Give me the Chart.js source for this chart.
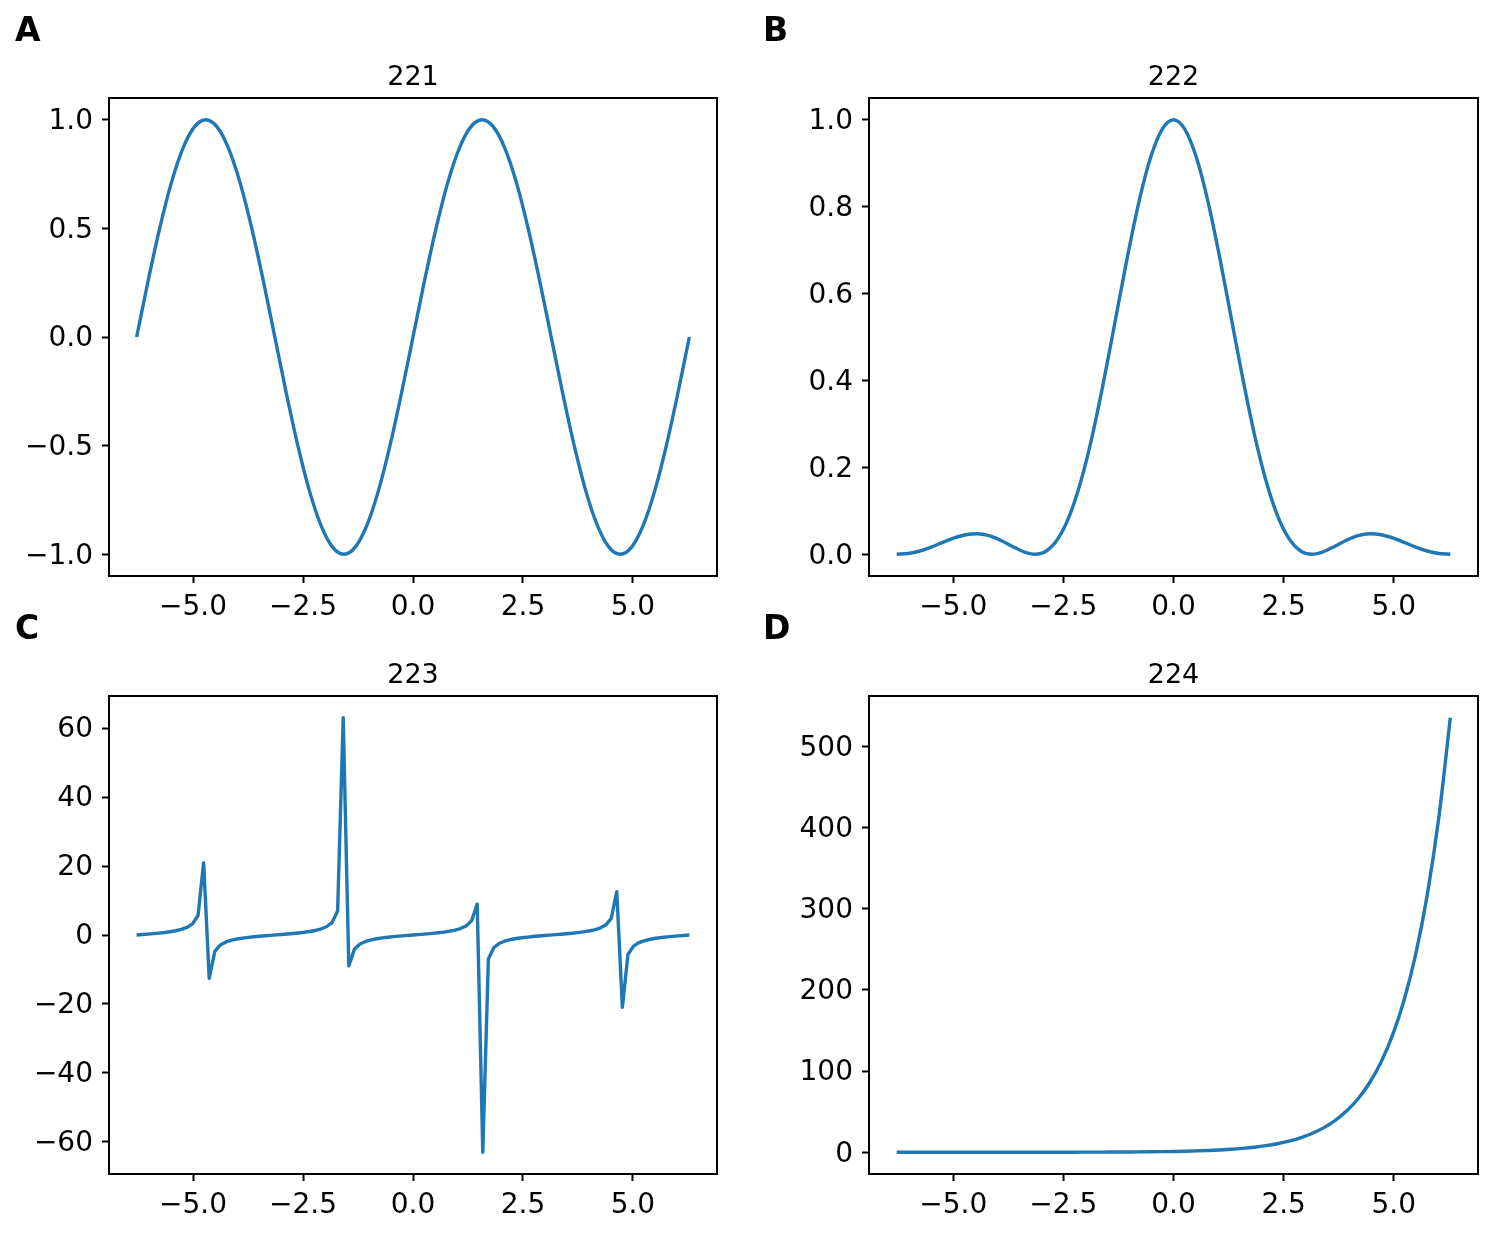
<!DOCTYPE html>
<html>
<head>
<meta charset="utf-8">
<script src="https://cdn.jsdelivr.net/npm/chart.js@4.4.1/dist/chart.umd.min.js"></script>
<style>
html, body { margin: 0; padding: 0; background: #ffffff; width: 1492px; height: 1233px; overflow: hidden; }
canvas { position: absolute; }
</style>
</head>
<body>
<canvas id="cA" width="746" height="660" style="left:0px;top:0px"></canvas>
<canvas id="cB" width="746" height="660" style="left:746px;top:0px"></canvas>
<canvas id="cC" width="746" height="635" style="left:0px;top:598px"></canvas>
<canvas id="cD" width="746" height="635" style="left:746px;top:598px"></canvas>
<script>
// ---- data ----
const X_TAN = [
  -6.2832, -6.1563, -6.0293, -5.9024, -5.7755, -5.6485, -5.5216, -5.3947, -5.2677, -5.1408,
  -5.0139, -4.8869, -4.7600, -4.6331, -4.5061, -4.3792, -4.2523, -4.1253, -3.9984, -3.8715,
  -3.7445, -3.6176, -3.4907, -3.3637, -3.2368, -3.1099, -2.9829, -2.8560, -2.7291, -2.6021,
  -2.4752, -2.3483, -2.2213, -2.0944, -1.9675, -1.8405, -1.7136, -1.5867, -1.4597, -1.3328,
  -1.2059, -1.0789, -0.9520, -0.8251, -0.6981, -0.5712, -0.4443, -0.3173, -0.1904, -0.0635,
  0.0635, 0.1904, 0.3173, 0.4443, 0.5712, 0.6981, 0.8251, 0.9520, 1.0789, 1.2059,
  1.3328, 1.4597, 1.5867, 1.7136, 1.8405, 1.9675, 2.0944, 2.2213, 2.3483, 2.4752,
  2.6021, 2.7291, 2.8560, 2.9829, 3.1099, 3.2368, 3.3637, 3.4907, 3.6176, 3.7445,
  3.8715, 3.9984, 4.1253, 4.2523, 4.3792, 4.5061, 4.6331, 4.7600, 4.8869, 5.0139,
  5.1408, 5.2677, 5.3947, 5.5216, 5.6485, 5.7755, 5.9024, 6.0293, 6.1563, 6.2832
];
const Y_TAN = [
  0, 0.127619, 0.259464, 0.400340, 0.556385, 0.736285, 0.953499, 1.230900, 1.611693, 2.189695,
  3.216021, 5.671282, 20.9925, -12.5786, -4.77914, -2.88932, -2.01770, -1.50305, -1.15406, -0.894674,
  -0.688451, -0.515535, -0.363970, -0.225860, -0.095489, 0.031744, 0.160011, 0.293627, 0.437646, 0.598704,
  0.786409, 1.015994, 1.313984, 1.732051, 2.387384, 3.617023, 6.955152, 63.0203, -8.96652, -4.12205,
  -2.61749, -1.86642, -1.40430, -1.08266, -0.839100, -0.642662, -0.476002, -0.328432, -0.192735, -0.063552,
  0.063552, 0.192735, 0.328432, 0.476002, 0.642662, 0.839100, 1.08266, 1.40430, 1.86642, 2.61749,
  4.12205, 8.96652, -63.0203, -6.955152, -3.617023, -2.387384, -1.732051, -1.313984, -1.015994, -0.786409,
  -0.598704, -0.437646, -0.293627, -0.160011, -0.031744, 0.095489, 0.225860, 0.363970, 0.515535, 0.688451,
  0.894674, 1.15406, 1.50305, 2.01770, 2.88932, 4.77914, 12.5786, -20.9925, -5.671282, -3.216021,
  -2.189695, -1.611693, -1.230900, -0.953499, -0.736285, -0.556385, -0.400340, -0.259464, -0.127619, 0
];
const X_SMOOTH = [
  -6.2832, -6.0214, -5.7596, -5.4978, -5.2360, -4.9742, -4.7124, -4.4506, -4.1888, -3.9270,
  -3.6652, -3.4034, -3.1416, -2.8798, -2.6180, -2.3562, -2.0944, -1.8326, -1.5708, -1.3090,
  -1.0472, -0.7854, -0.5236, -0.2618, 0,
  0.2618, 0.5236, 0.7854, 1.0472, 1.3090, 1.5708, 1.8326, 2.0944, 2.3562, 2.6180,
  2.8798, 3.1416, 3.4034, 3.6652, 3.9270, 4.1888, 4.4506, 4.7124, 4.9742, 5.2360,
  5.4978, 5.7596, 6.0214, 6.2832
];
const Y_SIN = [
  0, 0.258819, 0.5, 0.707107, 0.866025, 0.965926, 1, 0.965926, 0.866025, 0.707107,
  0.5, 0.258819, 0, -0.258819, -0.5, -0.707107, -0.866025, -0.965926, -1, -0.965926,
  -0.866025, -0.707107, -0.5, -0.258819, 0,
  0.258819, 0.5, 0.707107, 0.866025, 0.965926, 1, 0.965926, 0.866025, 0.707107, 0.5,
  0.258819, 0, -0.258819, -0.5, -0.707107, -0.866025, -0.965926, -1, -0.965926, -0.866025,
  -0.707107, -0.5, -0.258819, 0
];
const Y_SINC2 = [
  0, 0.0018475, 0.0075362, 0.016542, 0.027357, 0.037709, 0.045032, 0.047104, 0.042745, 0.032423,
  0.018610, 0.0057832, 0, 0.0080773, 0.036476, 0.090063, 0.17098, 0.277814, 0.405285, 0.544522,
  0.68392, 0.81057, 0.91189, 0.97736, 1,
  0.97736, 0.91189, 0.81057, 0.68392, 0.544522, 0.405285, 0.277814, 0.17098, 0.090063, 0.036476,
  0.0080773, 0, 0.0057832, 0.018610, 0.032423, 0.042745, 0.047104, 0.045032, 0.037709, 0.027357,
  0.016542, 0.0075362, 0.0018475, 0
];
const Y_EXP = [
  0.001867, 0.002426, 0.003152, 0.004096, 0.005322, 0.006914, 0.008983, 0.011672, 0.015165, 0.019703,
  0.025599, 0.033260, 0.043214, 0.056147, 0.072949, 0.094780, 0.123145, 0.159998, 0.207880, 0.270090,
  0.350918, 0.455938, 0.592385, 0.769665, 1,
  1.299266, 1.688091, 2.193280, 2.849654, 3.702459, 4.810477, 6.250089, 8.120527, 10.550724, 13.708197,
  17.810589, 23.140693, 30.065916, 39.063595, 50.754019, 65.942968, 85.677467, 111.317771, 144.631391, 187.914622,
  244.151065, 317.217178, 412.149372, 535.491656
];
const PANEL_LETTERS = ['A', 'B', 'C', 'D'];
const PANEL_TITLES = ['221', '222', '223', '224'];
const X_TICKS = [-5, -2.5, 0, 2.5, 5];
const X_TICK_LABELS = ['\u22125.0', '\u22122.5', '0.0', '2.5', '5.0'];
const Y_TICKS_A = [-1, -0.5, 0, 0.5, 1];
const Y_TICK_LABELS_A = ['\u22121.0', '\u22120.5', '0.0', '0.5', '1.0'];
const Y_TICKS_B = [0, 0.2, 0.4, 0.6, 0.8, 1.0];
const Y_TICK_LABELS_B = ['0.0', '0.2', '0.4', '0.6', '0.8', '1.0'];
const Y_TICKS_C = [-60, -40, -20, 0, 20, 40, 60];
const Y_TICK_LABELS_C = ['\u221260', '\u221240', '\u221220', '0', '20', '40', '60'];
const Y_TICKS_D = [0, 100, 200, 300, 400, 500];
const Y_TICK_LABELS_D = ['0', '100', '200', '300', '400', '500'];

// ---- rendering ----
Chart.defaults.font.family = "'DejaVu Sans', sans-serif";
Chart.defaults.color = '#000000';

const FONT_TICK = 28;
const FONT_TITLE = 27;
const FONT_LETTER = 33;
const LINE_COLOR = '#1f77b4';

const framePlugin = {
  id: 'frame',
  afterDatasetsDraw(chart) {
    const a = chart.chartArea;
    const ctx = chart.ctx;
    ctx.save();
    ctx.strokeStyle = '#000000';
    ctx.lineWidth = 2;
    ctx.strokeRect(a.left, a.top, a.right - a.left, a.bottom - a.top);
    ctx.restore();
  }
};

function makePanel(id, o) {
  const points = o.xs.map((x, i) => ({ x: x, y: o.ys[i] }));
  const tickGrid = { display: true, drawOnChartArea: false, drawTicks: true, tickLength: 7, tickWidth: 2, tickColor: '#000000' };
  return new Chart(document.getElementById(id), {
    type: 'line',
    data: { datasets: [{
      data: points,
      borderColor: LINE_COLOR,
      borderWidth: 3.4,
      pointRadius: 0,
      fill: false,
      tension: 0,
      cubicInterpolationMode: o.smooth ? 'monotone' : 'default',
      borderJoinStyle: 'round'
    }] },
    options: {
      responsive: false,
      animation: false,
      devicePixelRatio: 1,
      events: [],
      layout: { padding: { left: o.padLeft, right: o.padRight, top: 0, bottom: 0 } },
      plugins: {
        legend: { display: false },
        tooltip: { enabled: false },
        title: {
          display: true, text: o.letter, align: 'start', fullSize: true,
          font: { size: FONT_LETTER, weight: 'bold', lineHeight: 1.2 },
          color: '#000000', padding: { top: 12.3, bottom: 0 }
        },
        subtitle: {
          display: true, text: o.title, align: 'center', fullSize: false,
          font: { size: FONT_TITLE, weight: 'normal', lineHeight: 1.2 },
          color: '#000000', padding: { top: 9.7, bottom: 4 }
        }
      },
      scales: {
        x: {
          type: 'linear', min: -6.9115, max: 6.9115,
          border: { display: false },
          grid: tickGrid,
          afterBuildTicks: (s) => { s.ticks = X_TICKS.map(v => ({ value: v })); },
          afterFit: (s) => { s.height = o.xAxisHeight; },
          ticks: {
            autoSkip: false, maxRotation: 0, minRotation: 0, padding: 8,
            font: { size: FONT_TICK }, color: '#000000',
            callback: (v) => X_TICK_LABELS[X_TICKS.indexOf(v)]
          }
        },
        y: {
          type: 'linear', min: o.yMin, max: o.yMax,
          border: { display: false },
          grid: tickGrid,
          afterBuildTicks: (s) => { s.ticks = o.yTicks.map(v => ({ value: v })); },
          afterFit: (s) => { s.width = o.yAxisWidth; },
          ticks: {
            autoSkip: false, padding: 9, labelOffset: 2,
            font: { size: FONT_TICK }, color: '#000000',
            callback: (v) => o.yLabels[o.yTicks.indexOf(v)]
          }
        }
      }
    },
    plugins: [framePlugin]
  });
}

makePanel('cA', { xs: X_SMOOTH, ys: Y_SIN, smooth: true, letter: PANEL_LETTERS[0], title: PANEL_TITLES[0],
  yTicks: Y_TICKS_A, yLabels: Y_TICK_LABELS_A, yMin: -1.1, yMax: 1.1,
  padLeft: 15, yAxisWidth: 94, padRight: 29, xAxisHeight: 84 });
makePanel('cB', { xs: X_SMOOTH, ys: Y_SINC2, smooth: true, letter: PANEL_LETTERS[1], title: PANEL_TITLES[1],
  yTicks: Y_TICKS_B, yLabels: Y_TICK_LABELS_B, yMin: -0.05, yMax: 1.05,
  padLeft: 17, yAxisWidth: 106, padRight: 14, xAxisHeight: 84 });
makePanel('cC', { xs: X_TAN, ys: Y_TAN, smooth: false, letter: PANEL_LETTERS[2], title: PANEL_TITLES[2],
  yTicks: Y_TICKS_C, yLabels: Y_TICK_LABELS_C, yMin: -69.322, yMax: 69.322,
  padLeft: 15, yAxisWidth: 94, padRight: 29, xAxisHeight: 59 });
makePanel('cD', { xs: X_SMOOTH, ys: Y_EXP, smooth: true, letter: PANEL_LETTERS[3], title: PANEL_TITLES[3],
  yTicks: Y_TICKS_D, yLabels: Y_TICK_LABELS_D, yMin: -26.773, yMax: 562.266,
  padLeft: 17, yAxisWidth: 106, padRight: 14, xAxisHeight: 59 });
</script>
</body>
</html>
